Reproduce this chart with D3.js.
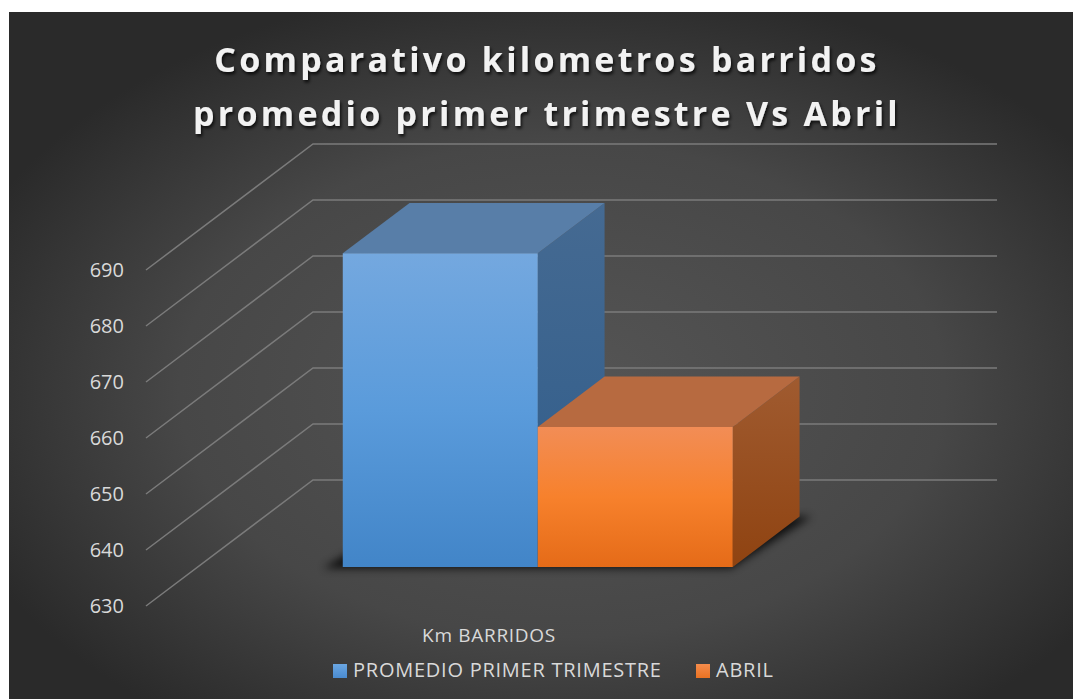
<!DOCTYPE html>
<html>
<head>
<meta charset="utf-8">
<script src="https://cdn.jsdelivr.net/npm/d3@7"></script>
<style>
  html, body { margin: 0; padding: 0; background: #fff; }
  svg { display: block; }
</style>
</head>
<body>
<div id="chart"></div>
<script>
// data
var titleLines = ["Comparativo kilometros barridos", "promedio primer trimestre Vs Abril"];
var category = "Km BARRIDOS";
var series = ["PROMEDIO PRIMER TRIMESTRE", "ABRIL"];
var values = [686, 655];
var yTicks = [630, 640, 650, 660, 670, 680, 690];

var W = 1073, H = 699;
var svg = d3.select("#chart").append("svg").attr("width", W).attr("height", H);
var defs = svg.append("defs");

// background
var bg = defs.append("radialGradient").attr("id", "bg")
  .attr("cx", "52%").attr("cy", "55%").attr("r", "60%");
bg.append("stop").attr("offset", "0%").attr("stop-color", "#555555");
bg.append("stop").attr("offset", "60%").attr("stop-color", "#474747");
bg.append("stop").attr("offset", "100%").attr("stop-color", "#2a2a2a");
svg.append("rect").attr("x", 9).attr("y", 12).attr("width", W - 9).attr("height", H - 12)
  .attr("fill", "url(#bg)");

function lin(id, a, b) {
  var g = defs.append("linearGradient").attr("id", id)
    .attr("x1", 0).attr("y1", 0).attr("x2", 0).attr("y2", 1);
  a.forEach(function(c, i) {
    g.append("stop").attr("offset", b[i]).attr("stop-color", c);
  });
}
lin("blueFront", ["#74a8df", "#5a9bdb", "#4285c8"], ["0%", "50%", "100%"]);
lin("blueSide", ["#456a92", "#2f5c8a"], ["0%", "100%"]);
lin("orFront", ["#f28d56", "#f7812c", "#e56b18"], ["0%", "50%", "100%"]);
lin("orSide", ["#a05b30", "#8f4311"], ["0%", "100%"]);
lin("blueKey", ["#6aa6e2", "#4a8bd0"], ["0%", "100%"]);
lin("orKey", ["#f58c4c", "#ea7222"], ["0%", "100%"]);

var shadow = defs.append("filter").attr("id", "tshadow")
  .attr("x", "-10%").attr("y", "-30%").attr("width", "120%").attr("height", "160%");
shadow.append("feDropShadow").attr("dx", 1.5).attr("dy", 2.5).attr("stdDeviation", 1.5)
  .attr("flood-color", "#000").attr("flood-opacity", 0.75);
var blur = defs.append("filter").attr("id", "blur")
  .attr("x", "-20%").attr("y", "-50%").attr("width", "140%").attr("height", "200%");
blur.append("feGaussianBlur").attr("stdDeviation", 4);

// 3d projection: front plane + depth offset
var x0 = 146, floorW = 684;
var depthDx = 167, depthDy = -126;
var y = d3.scaleLinear().domain([630, 690]).range([606, 270]);
var xb = d3.scaleBand().domain(series).range([145, 535]).padding(0);
var d0 = 0.31, d1 = 0.71;

function P(fx, v, d) {
  return [x0 + fx + d * depthDx, y(v) + d * depthDy];
}
function poly(pts) { return "M" + pts.map(function(p) { return p.join(","); }).join("L") + "Z"; }

// gridlines: diagonal on the side wall, horizontal on the back wall
var grid = svg.append("g").attr("stroke", "#7b7b7b").attr("stroke-width", 1.5).attr("fill", "none");
yTicks.forEach(function(t) {
  var a = P(0, t, 0), b = P(0, t, 1), c = P(floorW, t, 1);
  grid.append("path").attr("d", "M" + a + "L" + b + "L" + c);
});

// tick labels
svg.append("g").selectAll("text").data(yTicks).enter().append("text")
  .attr("x", 124).attr("y", function(d) { return y(d); })
  .attr("dy", "0.36em").attr("text-anchor", "end")
  .attr("font-family", "Open Sans, sans-serif").attr("font-size", 20)
  .attr("fill", "#d9d9d9").text(function(d) { return d; });

// shadow under the bars
var base = yTicks[0];
var sh = [P(xb(series[0]) - 18, base, d0 - 0.01), P(xb(series[1]) + xb.bandwidth(), base, d0 - 0.01),
  P(xb(series[1]) + xb.bandwidth() + 12, base, d1), P(xb(series[0]), base, d1)];
svg.append("path").attr("d", poly(sh)).attr("fill", "#000").attr("opacity", 0.8)
  .attr("filter", "url(#blur)");

// bars
var fronts = ["url(#blueFront)", "url(#orFront)"];
var sides = ["url(#blueSide)", "url(#orSide)"];
var tops = ["#587ea8", "#b76a40"];
var bars = svg.append("g");
series.forEach(function(s, i) {
  var l = xb(s), r = l + xb.bandwidth(), v = values[i];
  var g = bars.append("g");
  g.append("path").attr("d", poly([P(r, base, d0), P(r, base, d1), P(r, v, d1), P(r, v, d0)]))
    .attr("fill", sides[i]);
  g.append("path").attr("d", poly([P(l, v, d0), P(r, v, d0), P(r, v, d1), P(l, v, d1)]))
    .attr("fill", tops[i]);
  g.append("path").attr("d", poly([P(l, base, d0), P(r, base, d0), P(r, v, d0), P(l, v, d0)]))
    .attr("fill", fronts[i]);
});

// title
svg.append("g").attr("filter", "url(#tshadow)").selectAll("text").data(titleLines).enter().append("text")
  .attr("x", 547).attr("y", function(d, i) { return 72 + i * 54; })
  .attr("text-anchor", "middle")
  .attr("font-family", "Open Sans, sans-serif").attr("font-weight", "bold")
  .attr("font-size", 34).attr("letter-spacing", 3.25)
  .attr("fill", "#f2f2f2").text(function(d) { return d; });

// category label
svg.append("text").attr("x", 489).attr("y", 635).attr("dy", "0.36em")
  .attr("text-anchor", "middle").attr("font-family", "Open Sans, sans-serif")
  .attr("font-size", 19).attr("letter-spacing", 0.7).attr("fill", "#d9d9d9").text(category);

// legend
var keys = ["url(#blueKey)", "url(#orKey)"];
var legX = [333, 696];
var leg = svg.append("g");
series.forEach(function(s, i) {
  leg.append("rect").attr("x", legX[i]).attr("y", 664).attr("width", 14).attr("height", 14)
    .attr("fill", keys[i]);
  leg.append("text").attr("x", legX[i] + 20).attr("y", 670).attr("dy", "0.36em")
    .attr("font-family", "Open Sans, sans-serif").attr("font-size", 20).attr("letter-spacing", 0.75)
    .attr("fill", "#d9d9d9").text(s);
});
</script>
</body>
</html>
